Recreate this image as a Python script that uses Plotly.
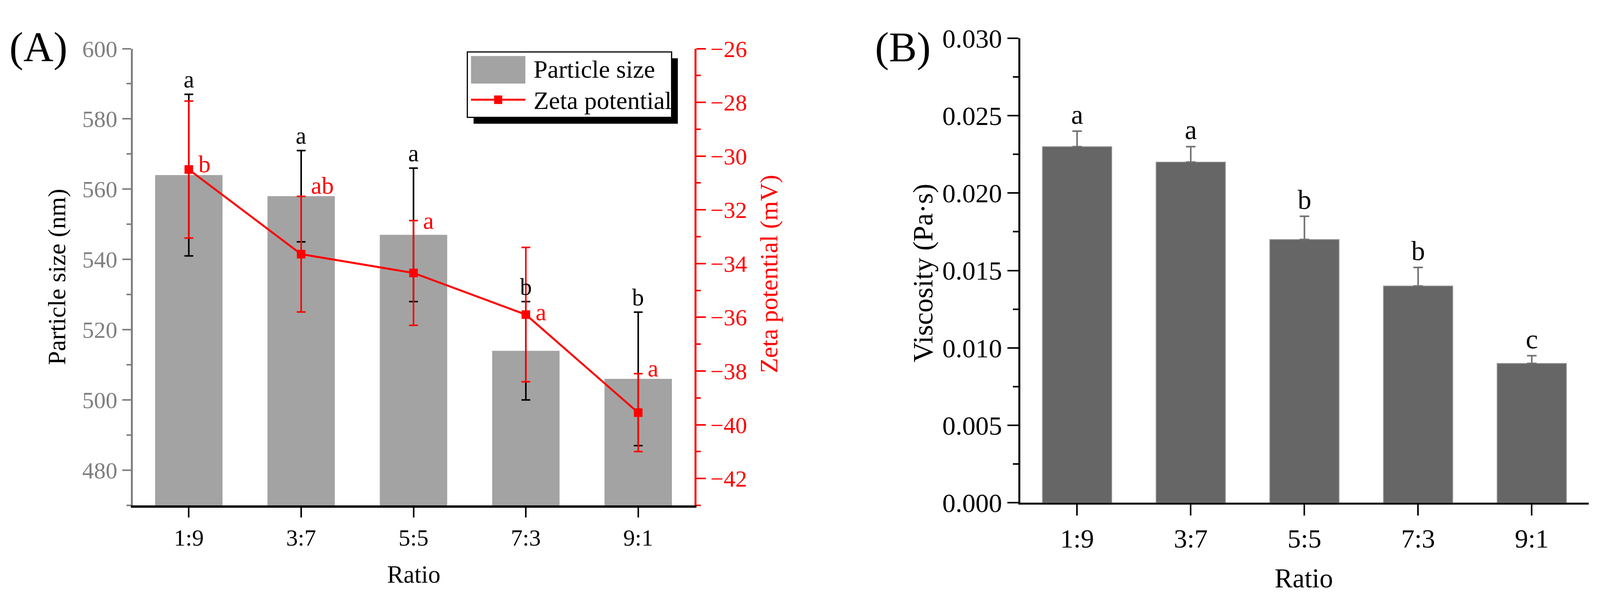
import plotly.graph_objects as go

# values
ratios = ["1:9", "3:7", "5:5", "7:3", "9:1"]
particle_size = [564, 558, 547, 514, 506]
particle_err = [23, 13, 19, 14, 19]
size_letters = ["a", "a", "a", "b", "b"]

zeta = [-30.5, -33.65, -34.35, -35.9, -39.55]
zeta_err = [2.55, 2.15, 1.95, 2.5, 1.45]
zeta_letters = ["b", "ab", "a", "a", "a"]
zeta_letter_y = [-30.3, -31.1, -32.4, -35.8, -37.9]

viscosity = [0.023, 0.022, 0.017, 0.014, 0.009]
viscosity_err = [0.001, 0.001, 0.0015, 0.0012, 0.0005]
visc_letters = ["a", "a", "b", "b", "c"]

# layout is measured on the 4355x1567 original, drawn on the page width
RW, RH = 4355, 1567
W, H = 4096, 1567
K = W / RW
FS = 0.97
FONT = "Liberation Serif"
GRAY = "#808080"
RED = "#FF0000"
BAR_A = "#A3A3A3"
BAR_B = "#666666"


def fx(x):
    return x / RW


def fy(y):
    return 1 - y / RH


def f(size, color="black"):
    return dict(family=FONT, size=round(size * FS), color=color)


fig = go.Figure()

fig.add_trace(go.Bar(
    x=ratios, y=particle_size, name="Particle size", width=0.6,
    marker=dict(color=BAR_A, line=dict(width=0)),
    error_y=dict(type="data", array=particle_err, color="black", thickness=4, width=12 * K),
    xaxis="x", yaxis="y", showlegend=False,
))
fig.add_trace(go.Scatter(
    x=ratios, y=zeta, name="Zeta potential", mode="lines+markers",
    line=dict(color=RED, width=5),
    marker=dict(symbol="square", size=22, color=RED),
    error_y=dict(type="data", array=zeta_err, color=RED, thickness=4, width=12 * K),
    xaxis="x", yaxis="y2", showlegend=False,
))
fig.add_trace(go.Bar(
    x=ratios, y=viscosity, name="Viscosity", width=0.61, showlegend=False,
    marker=dict(color=BAR_B, line=dict(color="#9a9a9a", width=2)),
    error_y=dict(type="data", symmetric=False, array=viscosity_err,
                 arrayminus=[0] * len(viscosity), color="#707070", thickness=4, width=13 * K),
    xaxis="x2", yaxis="y3",
))

fig.update_layout(
    width=W, height=H,
    margin=dict(l=0, r=0, t=0, b=0),
    paper_bgcolor="white", plot_bgcolor="white",
    font=f(62),
    barmode="overlay",
    showlegend=False,
    xaxis=dict(
        domain=[fx(361), fx(1890)], anchor="y", range=[-0.5, 4.5],
        showline=True, linecolor="black", linewidth=6,
        ticks="outside", ticklen=25, tickwidth=4, tickcolor="black",
        tickfont=f(62), showgrid=False, zeroline=False,
    ),
    yaxis=dict(
        domain=[fy(1321), fy(92)], anchor="x", range=[470, 600],
        dtick=20, tick0=0,
        showline=True, linecolor=GRAY, linewidth=5,
        ticks="outside", ticklen=22, tickwidth=4, tickcolor=GRAY,
        minor=dict(dtick=10, ticks="outside", ticklen=11, tickwidth=4, tickcolor=GRAY, showgrid=False),
        tickfont=f(62, GRAY),
        showgrid=False, zeroline=False,
    ),
    yaxis2=dict(
        overlaying="y", anchor="x", side="right", range=[-43, -26],
        dtick=2, tick0=0,
        showline=True, linecolor=RED, linewidth=5,
        ticks="outside", ticklen=24, tickwidth=4, tickcolor=RED,
        minor=dict(dtick=1, ticks="outside", ticklen=11, tickwidth=4, tickcolor=RED, showgrid=False),
        tickfont=f(62, RED),
        showgrid=False, zeroline=False,
    ),
    xaxis2=dict(
        domain=[fx(2777), fx(4324)], anchor="y3", range=[-0.5, 4.5],
        showline=True, linecolor="black", linewidth=5,
        ticks="outside", ticklen=28, tickwidth=4, tickcolor="black",
        tickfont=f(70), showgrid=False, zeroline=False,
    ),
    yaxis3=dict(
        domain=[fy(1314), fy(64)], anchor="x2", range=[0, 0.030],
        dtick=0.005, tickformat=".3f",
        showline=True, linecolor="black", linewidth=5,
        ticks="outside", ticklen=28, tickwidth=4, tickcolor="black",
        minor=dict(dtick=0.0025, ticks="outside", ticklen=14, tickwidth=4, tickcolor="black", showgrid=False),
        tickfont=f(70), showgrid=False, zeroline=False,
    ),
)


def prect(x0, y0, x1, y1, fill, line_w=0):
    return dict(type="rect", xref="paper", yref="paper", layer="above",
                x0=fx(x0), x1=fx(x1), y0=fy(y1), y1=fy(y0), fillcolor=fill,
                line=dict(color="black", width=line_w))


# legend box drawn by hand: shadow, frame, swatches
fig.update_layout(shapes=[
    prect(1289, 118, 1845, 294, "black"),
    prect(1272, 101, 1828, 277, "white", line_w=3),
    prect(1282, 112, 1430, 186, BAR_A),
    dict(type="line", xref="paper", yref="paper", layer="above",
         x0=fx(1282), x1=fx(1430), y0=fy(229.5), y1=fy(229.5),
         line=dict(color=RED, width=5)),
    prect(1345, 218, 1367, 241, RED),
])

ann = []
for r, v, e, t in zip(ratios, particle_size, particle_err, size_letters):
    ann.append(dict(x=r, y=v + e, xref="x", yref="y", text=t, showarrow=False,
                    xanchor="center", yanchor="bottom", yshift=2, font=f(63)))
for r, ly, t in zip(ratios, zeta_letter_y, zeta_letters):
    ann.append(dict(x=r, y=ly, xref="x", yref="y2", text=t, showarrow=False,
                    xanchor="left", yanchor="middle", xshift=24 * K, font=f(64, RED)))
for r, v, e, t in zip(ratios, viscosity, viscosity_err, visc_letters):
    ann.append(dict(x=r, y=v + e, xref="x2", yref="y3", text=t, showarrow=False,
                    xanchor="center", yanchor="bottom", yshift=2, font=f(72)))


def label(x, y, text, size, color="black", angle=0, xanchor="center"):
    return dict(x=fx(x), y=fy(y), xref="paper", yref="paper", text=text,
                showarrow=False, xanchor=xanchor, yanchor="middle", textangle=angle,
                font=f(size, color))


ann += [
    label(1450, 148, "Particle size", 66, xanchor="left"),
    label(1450, 232, "Zeta potential", 66, xanchor="left"),
    label(1126, 1507, "Ratio", 65),
    label(3549, 1518, "Ratio", 71),
    label(155, 706, "Particle size (nm)", 66, angle=-90),
    label(2093, 699, "Zeta potential (mV)", 66, color=RED, angle=-90),
    label(2513, 696, "Viscosity (Pa·s)", 74, angle=-90),
    label(105, 89, "(A)", 110),
    label(2458, 89, "(B)", 110),
]
fig.update_layout(annotations=ann)

fig.write_html("out.html", config={"displayModeBar": False},
               post_script="document.body.style.margin='0';")
